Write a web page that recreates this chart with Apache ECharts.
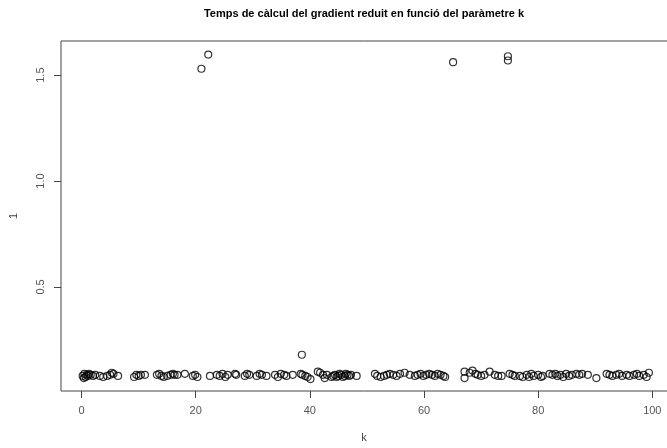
<!DOCTYPE html>
<html>
<head>
<meta charset="utf-8">
<script src="https://cdn.jsdelivr.net/npm/echarts@6/dist/echarts.min.js"></script>
<style>html,body{margin:0;padding:0;background:#fff;}#c{width:667px;height:448px;}</style>
</head>
<body>
<div id="c"></div>
<script>
var titleText = "Temps de càlcul del gradient reduit en funció del paràmetre k";
var xName = "k";
var yName = "1";
var xTicks = [0, 20, 40, 60, 80, 100];
var yTicks = [0.5, 1.0, 1.5];

var kValues = [
 0.2,0.4,0.5,0.7,0.9,1.1,1.3,1.6,2.0,2.4,3.2,3.8,4.5,5.0,5.3,5.6,6.4,
 9.2,9.6,10.0,10.4,11.1,
 13.2,13.6,14.0,14.4,15.0,15.6,16.0,16.3,16.8,18.1,19.5,19.9,20.3,
 21.0,22.2,
 22.5,23.7,24.2,24.7,25.2,25.6,26.9,27.1,28.6,29.0,29.4,30.7,
 31.2,31.6,32.4,33.9,34.4,34.9,35.5,35.9,37.0,38.4,38.7,38.6,39.2,39.6,40.1,
 41.4,41.8,42.3,42.6,43.0,
 43.8,44.1,44.4,44.7,45.0,45.2,45.5,45.8,46.1,46.3,46.6,46.9,47.2,48.2,
 51.4,51.8,52.4,53.0,53.5,54.0,54.6,55.2,55.8,56.6,57.5,58.4,58.9,59.4,59.9,60.4,60.9,61.4,61.9,62.4,62.9,63.4,63.7,
 67.1,67.1,68.0,68.5,69.0,69.4,70.0,70.6,71.5,72.4,73.0,73.6,
 65.1,74.7,74.7,
 75.0,75.5,75.9,76.8,77.3,78.0,78.4,78.8,79.2,80.0,80.5,80.8,82.0,82.5,83.0,83.4,83.9,84.4,84.9,85.4,85.9,86.7,87.2,87.7,88.7,90.2,
 92.0,92.5,93.0,93.7,94.2,94.7,95.5,96.0,96.8,97.3,97.7,98.5,99.0,99.4
];
var tValues = [
 0.08,0.07,0.09,0.075,0.085,0.08,0.09,0.085,0.08,0.085,0.08,0.075,0.08,0.085,0.095,0.09,0.08,
 0.075,0.085,0.08,0.085,0.085,
 0.085,0.09,0.08,0.075,0.08,0.085,0.09,0.085,0.085,0.09,0.08,0.085,0.075,
 1.53,1.597,
 0.08,0.085,0.08,0.09,0.075,0.085,0.09,0.085,0.08,0.09,0.085,0.08,
 0.09,0.085,0.08,0.085,0.075,0.09,0.085,0.08,0.085,0.09,0.085,0.18,0.08,0.075,0.065,
 0.1,0.095,0.085,0.07,0.085,
 0.075,0.08,0.085,0.075,0.08,0.09,0.085,0.075,0.08,0.09,0.085,0.08,0.085,0.08,
 0.09,0.08,0.075,0.08,0.085,0.09,0.085,0.08,0.09,0.095,0.085,0.08,0.085,0.09,0.08,0.085,0.09,0.085,0.08,0.09,0.085,0.08,0.075,
 0.1,0.07,0.095,0.105,0.09,0.085,0.08,0.085,0.1,0.085,0.08,0.08,
 1.561,1.589,1.569,
 0.09,0.085,0.08,0.08,0.075,0.085,0.075,0.09,0.08,0.085,0.075,0.08,0.09,0.085,0.09,0.08,0.085,0.075,0.09,0.08,0.085,0.09,0.085,0.09,0.085,0.07,
 0.09,0.085,0.08,0.085,0.09,0.08,0.085,0.08,0.085,0.09,0.08,0.085,0.075,0.095
];

var points = kValues.map(function (k, i) { return [k, tValues[i]]; });

var chart = echarts.init(document.getElementById('c'), null, {renderer: 'canvas'});
var font = 'Liberation Sans, Arial, Helvetica, sans-serif';
chart.setOption({
  animation: false,
  backgroundColor: '#ffffff',
  grid: {left: 61, top: 41, height: 350, width: 613, outerBoundsMode: 'none', containLabel: false,
    show: true, borderColor: '#444', borderWidth: 1, backgroundColor: 'transparent'},
  xAxis: {
    type: 'value', min: -3.6, max: 103.8,
    axisLine: {show: false, onZero: false},
    splitLine: {show: false},
    axisTick: {show: true, customValues: xTicks, length: 7, inside: false, lineStyle: {color: '#444', width: 1}},
    axisLabel: {show: true, customValues: xTicks, margin: 14, color: '#555', fontSize: 11, fontFamily: font}
  },
  yAxis: {
    type: 'value', min: 0.0088, max: 1.661,
    axisLine: {show: false, onZero: false},
    splitLine: {show: false},
    axisTick: {show: true, customValues: yTicks, length: 7, inside: false, lineStyle: {color: '#444', width: 1}},
    axisLabel: {show: true, customValues: yTicks, rotate: 90, margin: 15, color: '#555', fontSize: 11, fontFamily: font,
      formatter: function (v) { return v.toFixed(1); }}
  },
  graphic: [
    {type: 'text', x: 364, y: 14, style: {text: titleText, font: 'bold 11px ' + font, fill: '#000', textAlign: 'center', textVerticalAlign: 'middle'}},
    {type: 'text', x: 364, y: 438, style: {text: xName, font: '11px ' + font, fill: '#444', textAlign: 'center', textVerticalAlign: 'middle'}},
    {type: 'text', x: 14, y: 216, rotation: Math.PI / 2, style: {text: yName, font: '11px ' + font, fill: '#444', textAlign: 'center', textVerticalAlign: 'middle'}}
  ],
  series: [{
    type: 'scatter',
    data: points,
    symbol: 'circle',
    symbolSize: 7,
    itemStyle: {color: 'rgba(0,0,0,0)', borderColor: '#000', borderWidth: 1.2},
    emphasis: {disabled: true}
  }]
});
</script>
</body>
</html>
